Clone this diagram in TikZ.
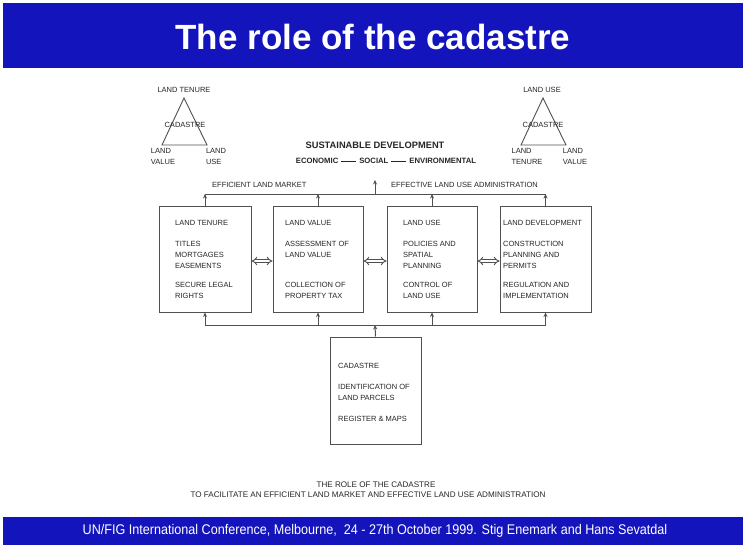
\documentclass[tikz,border=0pt]{standalone}
\usepackage{fontspec}
\setmainfont{Liberation Sans}
\newfontfamily\dfont{Liberation Sans}
\newfontfamily\footfont[FakeStretch=0.9]{Liberation Sans}
\usetikzlibrary{arrows.meta}
\definecolor{slideblue}{RGB}{20,20,188}
\definecolor{ink}{RGB}{80,80,80}
\tikzset{
  small/.style={font=\dfont\fontsize{7.5}{11}\selectfont, text=black!85, inner sep=0pt},
  boxtext/.style={small, anchor=west, align=left},
  panel/.style={draw=ink, line width=1pt, minimum width=#1, inner sep=0pt},
  link/.style={draw=ink, line width=1pt},
  uptip/.style={link, -{Stealth[length=4.5pt,width=4pt]}},
  dbl/.style={draw=ink, double=white, double distance=2pt, line width=0.9pt, {Implies[length=4pt]}-{Implies[length=4pt]}},
}
\begin{document}
\begin{tikzpicture}[x=1pt,y=-1pt]
\useasboundingbox (0,0) rectangle (746,547);
\fill[white] (0,0) rectangle (746,547);

% title and footer bars
\fill[slideblue] (3,3) rectangle (743,68);
\node[font=\bfseries\fontsize{35}{38}\selectfont, text=white] (title) at (373,37) {The role of the cadastre};
\fill[slideblue] (3,517) rectangle (743,545);
\node[font=\footfont\fontsize{14}{16}\selectfont, text=white] (footer) at (375,531)
  {UN/FIG International Conference, Melbourne,\ \ 24 - 27th October 1999. Stig Enemark and Hans Sevatdal};

% triangles
\draw[ink, line width=0.9pt] (184,98) -- (162,145) -- (207,145) -- cycle;
\node[small] (tl1) at (184,90) {LAND TENURE};
\node[small] (tl2) at (185,125) {CADASTRE};
\node[small, align=left] (tl3) at (163,156) {LAND\\VALUE};
\node[small, align=left] (tl4) at (216,156) {LAND\\USE};

\draw[ink, line width=0.9pt] (543,98) -- (521,145) -- (566,145) -- cycle;
\node[small] (tr1) at (542,90) {LAND USE};
\node[small] (tr2) at (543,125) {CADASTRE};
\node[small, align=left] (tr3) at (527,156) {LAND\\TENURE};
\node[small, align=left] (tr4) at (575,156) {LAND\\VALUE};

% sustainable development heading
\node[font=\bfseries\fontsize{9.3}{10}\selectfont, text=black!85] (sd) at (375,145) {SUSTAINABLE DEVELOPMENT};
\node[font=\bfseries\fontsize{7.7}{8}\selectfont, text=black!85] (pillars) at (386,161)
  {ECONOMIC\hspace{3pt}\rule[2.3pt]{15pt}{0.7pt}\hspace{3pt}SOCIAL\hspace{3pt}\rule[2.3pt]{15pt}{0.7pt}\hspace{3pt}ENVIRONMENTAL};

% four activity panels
\node[panel=92pt, minimum height=106pt] (b1) at (205,259) {};
\node[panel=90pt, minimum height=106pt] (b2) at (318,259) {};
\node[panel=90pt, minimum height=106pt] (b3) at (432,259) {};
\node[panel=91pt, minimum height=106pt] (b4) at (545.5,259) {};

\node[boxtext] (t1) at (175,259.5) {LAND TENURE\\[10pt]TITLES\\MORTGAGES\\EASEMENTS\\[8pt]SECURE LEGAL\\RIGHTS};
\node[boxtext] (t2) at (285,259.5) {LAND VALUE\\[10pt]ASSESSMENT OF\\LAND VALUE\\[19pt]COLLECTION OF\\PROPERTY TAX};
\node[boxtext] (t3) at (403,259.5) {LAND USE\\[10pt]POLICIES AND\\SPATIAL\\PLANNING\\[8pt]CONTROL OF\\LAND USE};
\node[boxtext] (t4) at (503,259.5) {LAND DEVELOPMENT\\[10pt]CONSTRUCTION\\PLANNING AND\\PERMITS\\[8pt]REGULATION AND\\IMPLEMENTATION};

% cadastre panel
\node[panel=91pt, minimum height=107pt] (cad) at (375.5,390.5) {};
\node[boxtext] (tc) at (338,392) {CADASTRE\\[10pt]IDENTIFICATION OF\\LAND PARCELS\\[10pt]REGISTER \& MAPS};

% double arrows between panels
\draw[dbl] (b1.east |- 0,261) -- (b2.west |- 0,261);
\draw[dbl] (b2.east |- 0,261) -- (b3.west |- 0,261);
\draw[dbl] (b3.east |- 0,261) -- (b4.west |- 0,261);

% upper bus towards sustainable development
\coordinate (p1) at (205,194);
\coordinate (p2) at (318,194);
\coordinate (p3) at (432,194);
\coordinate (p4) at (545.5,194);
\coordinate (pc) at (375,194);
\coordinate (pup) at (375,180);
\draw[link] (p1) -- (p4);
\draw[uptip] (b1.north) -- (p1);
\draw[uptip] (b2.north) -- (p2);
\draw[uptip] (b3.north) -- (p3);
\draw[uptip] (b4.north) -- (p4);
\draw[uptip] (pc) -- (pup);
\node[small, anchor=west] (elm) at (212,185) {EFFICIENT LAND MARKET};
\node[small, anchor=west] (elua) at (391,185) {EFFECTIVE LAND USE ADMINISTRATION};

% lower bus from the cadastre
\coordinate (q1) at (205,325);
\coordinate (q2) at (318,325);
\coordinate (q3) at (432,325);
\coordinate (q4) at (545.5,325);
\coordinate (qc) at (375,325);
\draw[link] (q1) -- (q4);
\draw[uptip] (q1) -- (b1.south);
\draw[uptip] (q2) -- (b2.south);
\draw[uptip] (q3) -- (b3.south);
\draw[uptip] (q4) -- (b4.south);
\draw[uptip] (cad.north) -- (qc);

% caption
\node[small, font=\dfont\fontsize{8.1}{9}\selectfont] (cap1) at (376,485) {THE ROLE OF THE CADASTRE};
\node[small, font=\dfont\fontsize{8.1}{9}\selectfont] (cap2) at (368,494.5)
  {TO FACILITATE AN EFFICIENT LAND MARKET AND EFFECTIVE LAND USE ADMINISTRATION};
\end{tikzpicture}
\end{document}
